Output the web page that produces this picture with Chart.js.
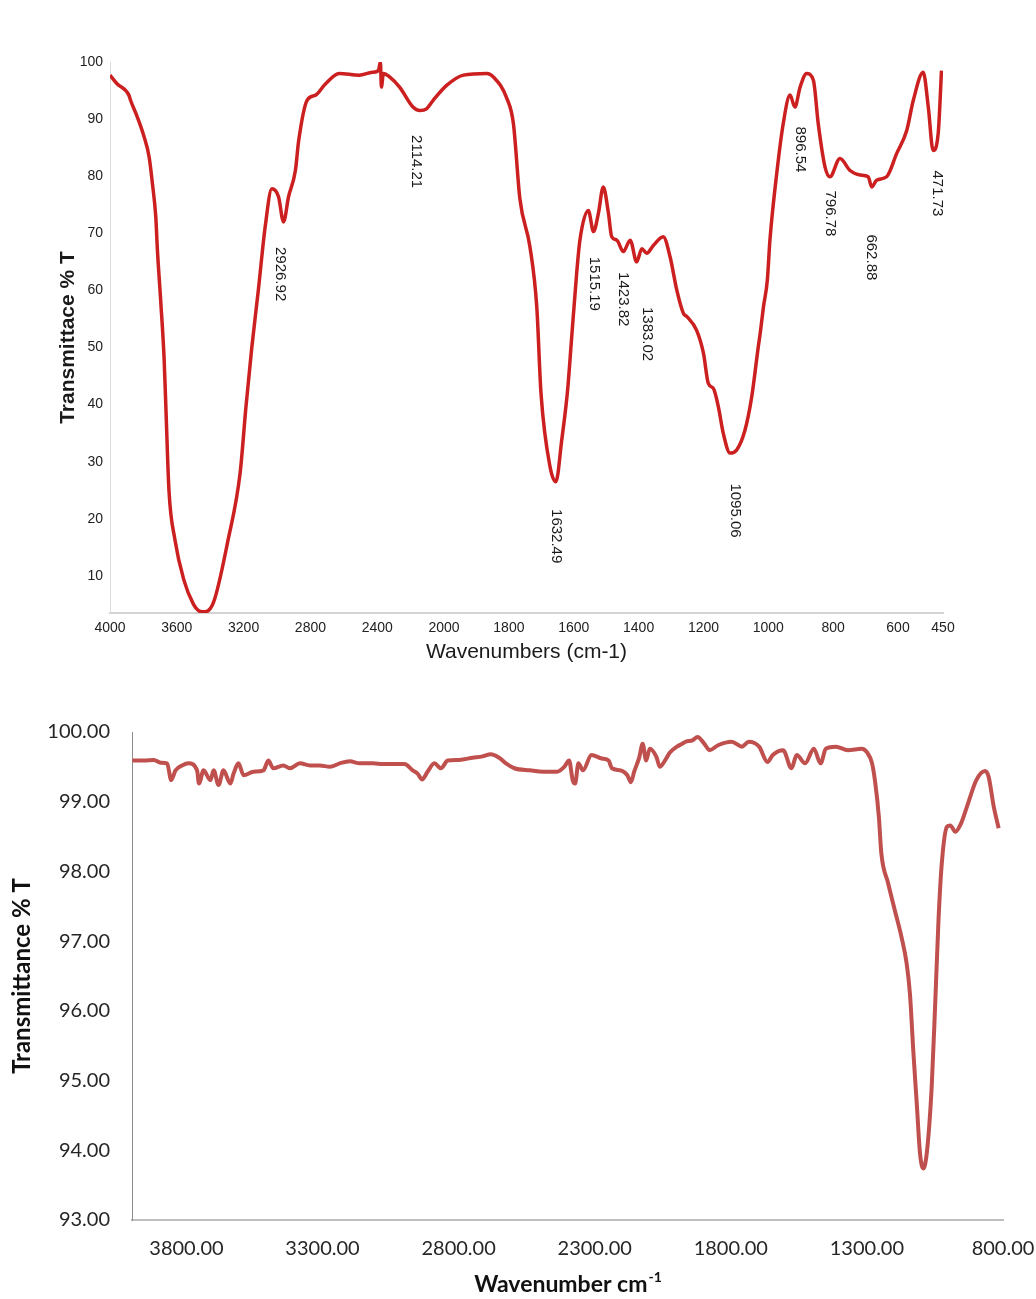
<!DOCTYPE html>
<html lang="en">
<head>
<meta charset="UTF-8">
<title>FTIR spectra</title>
<script src="https://cdn.jsdelivr.net/npm/chart.js@4"></script>
<style>
  body { margin: 0; background: #fff; width: 1036px; height: 1299px; overflow: hidden; position: relative; }
  #topChart { position: absolute; left: 0; top: 0; }
  #bottomChart { position: absolute; left: 0; top: 690px; }
</style>
</head>
<body>
<canvas id="topChart" width="1036" height="690"></canvas>
<canvas id="bottomChart" width="1036" height="609"></canvas>

<script>
// ---- top spectrum (split wavenumber axis) ----
const topWave = [4000,3958,3887,3877,3837,3796,3766,3746,3726,3716,3696,3676,3666,3647,3611,3558,3500,3470,3444,3381,
  3293,3221,3186,3151,3112,3071,3031,2991,2961,2931,2890,2870,2820,2769,2709,2628,2508,2429,2393,2381,
  2375,2363,2326,2266,2186,2145,2105,2065,1992,1940,1868,1848,1806,1786,1766,1735,1714,1701,1673,1655,
  1637,1619,1607,1591,1581,1555,1539,1524,1509,1493,1483,1467,1447,1426,1406,1390,1375,1354,1324,1303,
  1282,1262,1251,1221,1200,1185,1169,1154,1139,1118,1097,1072,1051,1031,1025,1015,1003,995,974,954,
  933,918,902,882,861,846,825,810,779,748,717,692,681,666,635,604,571,549,516,499,483,466,455];
const topTrans = [97.7,96.2,94.2,93.3,90.4,86.9,83.4,78.7,72.9,67,58,48,40,25,16.3,9.3,5,3.9,3.7,5.3,
  16.3,28,39.6,50,60,71.1,77.8,76.4,72,76.4,81,86.3,93.3,94.2,96.2,98,97.7,98.2,98.5,100,
  95.6,98,97.4,95.6,92.1,91.5,91.8,93.3,95.9,97.7,98,97.4,93.6,89.2,76,67.6,57.1,42,29.1,26.5,
  33.8,42.5,51.3,63,68.8,74,70.3,73.5,78.1,73.5,69.4,68.8,66.8,68.8,65,67.3,66.5,67.9,69.4,65.9,
  60,56,55.4,53,49,43.7,42.8,39.6,35,31.5,32.1,35.5,41.4,50.1,52.5,57.1,61.8,68.8,80.5,89.2,
  94.2,92.1,95.6,98,96.8,89.2,81.6,79.9,83.1,81,80.2,79.9,78.1,79.3,79.9,84,88,93.3,98.2,92.1,84.5,87.5,98.5];
const topXTicks = [4000,3600,3200,2800,2400,2000,1800,1600,1400,1200,1000,800,600,450];
const topYTicks = [10,20,30,40,50,60,70,80,90,100];

const peakText = ['2926.92','2114.21','1632.49','1515.19','1423.82','1383.02','1095.06','896.54','796.78','662.88','471.73'];
const peakAt   = [2981, 2165, 1655, 1536, 1449, 1375, 1103, 902, 810, 684, 469];
const peakTop  = [67.6, 87.2, 21.7, 65.9, 63.2, 57.1, 26.2, 88.7, 77.5, 69.8, 81];

// ---- bottom spectrum ----
const botWave = [3999,3956,3920,3895,3871,3856,3840,3816,3792,3761,3754,3737,3712,3700,3682,3664,3639,3627,3609,3590,
  3554,3517,3499,3481,3444,3420,3383,3346,3310,3273,3237,3200,3163,3115,3078,3042,2999,2969,2950,2934,
  2914,2889,2865,2840,2798,2749,2712,2682,2651,2626,2595,2538,2488,2438,2412,2394,2381,2372,2360,2343,
  2312,2274,2249,2237,2205,2180,2167,2155,2136,2124,2111,2098,2073,2061,2042,2023,1998,1979,1966,1941,
  1922,1897,1878,1847,1797,1759,1734,1696,1665,1646,1608,1577,1558,1527,1495,1470,1451,1414,1370,1319,
  1300,1281,1269,1256,1247,1222,1198,1173,1154,1142,1129,1117,1105,1093,1080,1062,1049,1037,1025,1006,
  994,975,954,929,898,866,853,834,816];
const botTrans = [99.59,99.59,99.60,99.56,99.55,99.31,99.45,99.52,99.55,99.45,99.26,99.45,99.31,99.45,99.24,99.45,99.26,99.40,99.55,99.38,
  99.43,99.45,99.59,99.48,99.52,99.48,99.55,99.52,99.52,99.50,99.55,99.58,99.55,99.55,99.54,99.54,99.54,99.45,99.40,99.32,
  99.43,99.55,99.48,99.59,99.60,99.63,99.65,99.68,99.63,99.55,99.48,99.45,99.43,99.43,99.50,99.59,99.31,99.26,99.55,99.45,
  99.67,99.62,99.59,99.48,99.45,99.38,99.28,99.43,99.64,99.83,99.59,99.76,99.64,99.50,99.59,99.71,99.79,99.83,99.86,99.88,
  99.93,99.83,99.74,99.81,99.86,99.79,99.86,99.79,99.57,99.67,99.74,99.48,99.67,99.55,99.76,99.55,99.76,99.79,99.74,99.76,
  99.71,99.55,99.26,98.78,98.26,97.83,97.45,97.06,96.68,96.25,95.39,94.68,93.96,93.74,93.96,94.91,96.11,97.30,98.11,98.64,
  98.66,98.57,98.69,98.97,99.31,99.44,99.36,98.93,98.62];
const botXTicks = [3800,3300,2800,2300,1800,1300,800];

// wavenumber axis of the top plot: 4000-2000 is squeezed to half the scale of 2000-450
const splitStops = [[4000, 0], [2000, 0.401], [600, 0.946], [450, 1]];
function toFrac(v) {
  for (let i = 1; i < splitStops.length; i++) {
    const [v0, f0] = splitStops[i - 1], [v1, f1] = splitStops[i];
    if (v >= v1 || i === splitStops.length - 1) return f0 + (v0 - v) / (v0 - v1) * (f1 - f0);
  }
}
function fromFrac(f) {
  for (let i = 1; i < splitStops.length; i++) {
    const [v0, f0] = splitStops[i - 1], [v1, f1] = splitStops[i];
    if (f <= f1 || i === splitStops.length - 1) return v0 - (f - f0) / (f1 - f0) * (v0 - v1);
  }
}
class SplitScale extends Chart.LinearScale {
  getPixelForValue(value) {
    return value === null ? NaN : this.getPixelForDecimal(toFrac(value));
  }
  getValueForPixel(pixel) {
    return fromFrac(this.getDecimalForPixel(pixel));
  }
}
SplitScale.id = 'split';
SplitScale.defaults = {};
Chart.register(SplitScale);

const peakLabels = {
  id: 'peakLabels',
  afterDatasetsDraw(chart) {
    const ctx = chart.ctx, xs = chart.scales.x, ys = chart.scales.y;
    ctx.save();
    ctx.font = '15px "Liberation Sans", Arial, sans-serif';
    ctx.fillStyle = '#1a1a1a';
    ctx.textAlign = 'left';
    ctx.textBaseline = 'middle';
    peakText.forEach((t, i) => {
      ctx.save();
      ctx.translate(xs.getPixelForValue(peakAt[i]), ys.getPixelForValue(peakTop[i]));
      ctx.rotate(Math.PI / 2);
      ctx.fillText(t, 0, 0);
      ctx.restore();
    });
    ctx.restore();
  }
};

new Chart(document.getElementById('topChart'), {
  type: 'line',
  data: {
    datasets: [{
      data: topWave.map((w, i) => ({x: w, y: topTrans[i]})),
      borderColor: '#cc1f1f',
      borderWidth: 3.5,
      pointRadius: 0,
      fill: false,
      cubicInterpolationMode: 'monotone'
    }]
  },
  options: {
    responsive: false,
    devicePixelRatio: 1,
    animation: false,
    layout: { padding: { left: 52, right: 93, top: 62, bottom: 0 } },
    plugins: { legend: { display: false }, tooltip: { enabled: false } },
    scales: {
      x: {
        type: 'split',
        min: 450,
        max: 4000,
        afterBuildTicks: s => { s.ticks = topXTicks.map(v => ({value: v})); },
        afterFit: s => { s.height = 77; s.paddingLeft = 0; s.paddingRight = 0; },
        grid: { display: false, drawTicks: false },
        border: { display: true, color: '#d4d4d4', width: 2 },
        ticks: {
          autoSkip: false, maxRotation: 0, padding: 7,
          color: '#222',
          font: { family: '"Liberation Sans", Arial, sans-serif', size: 14 },
          callback: v => String(v)
        },
        title: {
          display: true, text: 'Wavenumbers (cm-1)', color: '#1a1a1a',
          font: { family: '"Liberation Sans", Arial, sans-serif', size: 21 },
          padding: { top: 0, bottom: 25 }
        }
      },
      y: {
        min: 3.5,
        max: 100,
        afterBuildTicks: s => { s.ticks = topYTicks.map(v => ({value: v})); },
        afterFit: s => { s.width = 58; s.paddingTop = 0; s.paddingBottom = 0; },
        grid: { display: false, drawTicks: false },
        border: { display: true, color: '#dcdcdc', width: 1 },
        ticks: {
          padding: 7, color: '#222',
          font: { family: '"Liberation Sans", Arial, sans-serif', size: 14 },
          callback: v => String(v)
        },
        title: {
          display: true, text: 'Transmittace % T', color: '#1a1a1a',
          font: { family: '"Liberation Sans", Arial, sans-serif', size: 21, weight: 'bold' },
          padding: { top: 4, bottom: 0 }
        }
      }
    }
  },
  plugins: [peakLabels]
});

// x title with a superscript, drawn under the bottom chart
const superTitle = {
  id: 'superTitle',
  afterDraw(chart) {
    const ctx = chart.ctx, a = chart.chartArea;
    const main = 'Wavenumber cm', sup = '-1';
    ctx.save();
    ctx.fillStyle = '#111';
    ctx.textBaseline = 'middle';
    ctx.textAlign = 'left';
    ctx.font = 'bold 23px Lato, "Liberation Sans", sans-serif';
    const w1 = ctx.measureText(main).width;
    ctx.font = 'bold 14px Lato, "Liberation Sans", sans-serif';
    const w2 = ctx.measureText(sup).width;
    const x0 = (a.left + a.right) / 2 - (w1 + w2) / 2;
    const y0 = 595;
    ctx.font = 'bold 23px Lato, "Liberation Sans", sans-serif';
    ctx.fillText(main, x0, y0);
    ctx.font = 'bold 14px Lato, "Liberation Sans", sans-serif';
    ctx.fillText(sup, x0 + w1 + 1, y0 - 8);
    ctx.restore();
  }
};

new Chart(document.getElementById('bottomChart'), {
  type: 'line',
  data: {
    datasets: [{
      data: botWave.map((w, i) => ({x: w, y: botTrans[i]})),
      borderColor: '#c0504d',
      borderWidth: 4,
      pointRadius: 0,
      fill: false,
      cubicInterpolationMode: 'monotone'
    }]
  },
  options: {
    responsive: false,
    devicePixelRatio: 1,
    animation: false,
    layout: { padding: { left: 4, right: 33, top: 42, bottom: 0 } },
    plugins: { legend: { display: false }, tooltip: { enabled: false } },
    scales: {
      x: {
        type: 'linear',
        reverse: true,
        min: 800,
        max: 4000,
        afterBuildTicks: s => { s.ticks = botXTicks.map(v => ({value: v})); },
        afterFit: s => { s.height = 79; s.paddingLeft = 0; s.paddingRight = 0; },
        grid: { display: false, drawTicks: false },
        border: { display: true, color: '#bfbfbf', width: 2 },
        ticks: {
          autoSkip: false, maxRotation: 0, padding: 17,
          color: '#262626',
          font: { family: 'Lato, "Liberation Sans", sans-serif', size: 20 },
          callback: v => v.toFixed(2)
        }
      },
      y: {
        min: 93,
        max: 100,
        afterFit: s => { s.width = 128; s.paddingTop = 0; s.paddingBottom = 0; },
        grid: { display: false, drawTicks: false },
        border: { display: true, color: '#8c8c8c', width: 1 },
        ticks: {
          stepSize: 1, padding: 22,
          color: '#262626',
          font: { family: 'Lato, "Liberation Sans", sans-serif', size: 20 },
          callback: v => v.toFixed(2)
        },
        title: {
          display: true, text: 'Transmittance % T', color: '#111',
          font: { family: 'Lato, "Liberation Sans", sans-serif', size: 24, weight: 'bold' },
          padding: { top: 4, bottom: 0 }
        }
      }
    }
  },
  plugins: [superTitle]
});
</script>
</body>
</html>
